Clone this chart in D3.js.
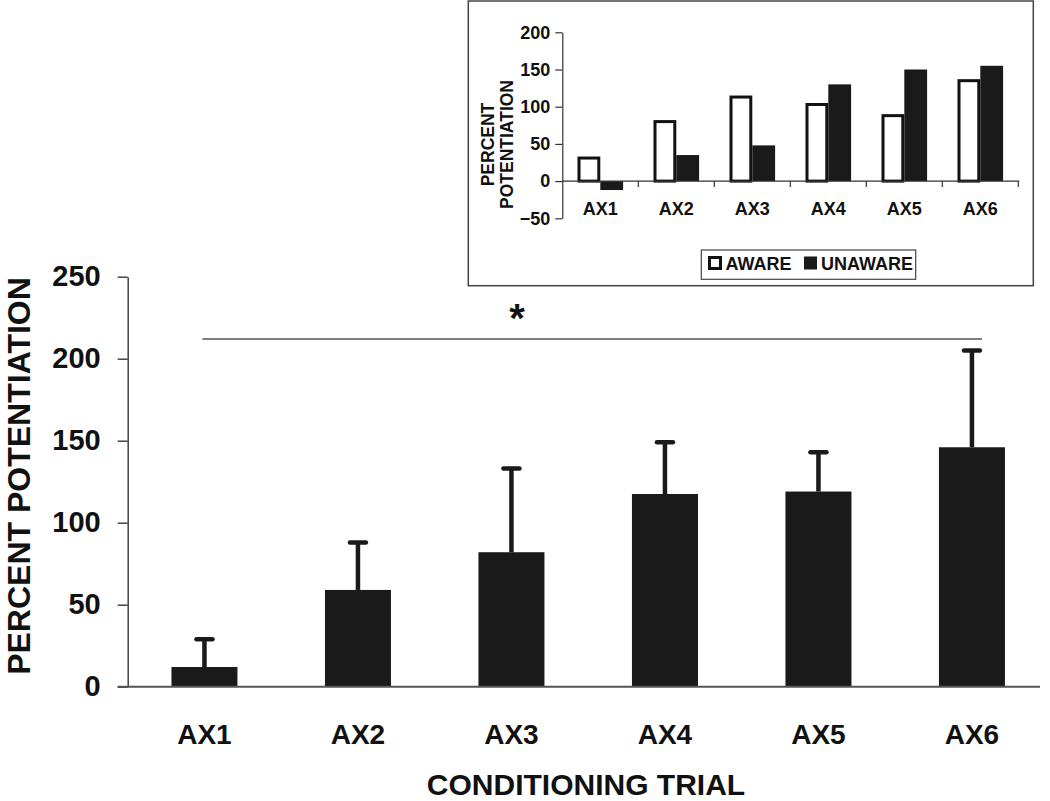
<!DOCTYPE html>
<html>
<head>
<meta charset="utf-8">
<script src="https://cdn.jsdelivr.net/npm/d3@7"></script>
<style>
  html, body { margin: 0; padding: 0; background: #fff; }
  svg text { font-family: "Liberation Sans", Arial, Helvetica, sans-serif; font-weight: bold; fill: #111; }
</style>
</head>
<body>
<svg id="chart" width="1050" height="801"></svg>
<script>
// ---------- data ----------
const categories = ["AX1", "AX2", "AX3", "AX4", "AX5", "AX6"];
const meanPotentiation = [12, 59, 82, 117.5, 119, 146];
const errorUpper = [17, 29, 51, 31.5, 24, 59];
const mainTicks = [0, 50, 100, 150, 200, 250];
const significanceLevel = [212];
const significanceLabel = ["*"];

const seriesNames = ["AWARE", "UNAWARE"];
const awareValues = [33, 82, 115, 105, 90, 137];
const unawareValues = [-12, 35, 48, 130, 150, 155];
const insetTicks = [-50, 0, 50, 100, 150, 200];

const svg = d3.select("#chart");
const font = '"Liberation Sans", Arial, Helvetica, sans-serif';

// ---------- main chart ----------
const x = d3.scaleBand().domain(categories).range([127.7, 1048.7]).paddingInner(0.57).paddingOuter(0.285);
const y = d3.scaleLinear().domain([0, 250]).range([686.7, 276.7]);

const main = svg.append("g");

// y axis
const yAxis = d3.axisLeft(y).tickValues(mainTicks).tickSize(10).tickPadding(17).tickSizeOuter(0);
const yg = main.append("g").attr("transform", "translate(127.7,0)").call(yAxis);
yg.select(".domain").attr("stroke", "#444").attr("stroke-width", 1.5);
yg.selectAll(".tick line").attr("stroke", "#444").attr("stroke-width", 1.5);
yg.selectAll(".tick text").style("font-size", "29px").style("font-family", font).style("font-weight", "bold").attr("fill", "#111");

// bars
main.selectAll("rect.bar").data(categories).join("rect")
  .attr("class", "bar")
  .attr("x", d => x(d))
  .attr("width", x.bandwidth())
  .attr("y", (d, i) => y(meanPotentiation[i]))
  .attr("height", (d, i) => y(0) - y(meanPotentiation[i]))
  .attr("fill", "#1a1a1a");

// error bars
const eg = main.append("g");
eg.selectAll("line.stem").data(categories).join("line")
  .attr("x1", d => x(d) + x.bandwidth() / 2)
  .attr("x2", d => x(d) + x.bandwidth() / 2)
  .attr("y1", (d, i) => y(meanPotentiation[i]))
  .attr("y2", (d, i) => y(meanPotentiation[i] + errorUpper[i]))
  .attr("stroke", "#1a1a1a").attr("stroke-width", 4.5);
eg.selectAll("line.cap").data(categories).join("line")
  .attr("x1", d => x(d) + x.bandwidth() / 2 - 8)
  .attr("x2", d => x(d) + x.bandwidth() / 2 + 8)
  .attr("y1", (d, i) => y(meanPotentiation[i] + errorUpper[i]))
  .attr("y2", (d, i) => y(meanPotentiation[i] + errorUpper[i]))
  .attr("stroke", "#1a1a1a").attr("stroke-width", 4.5).attr("stroke-linecap", "round");

// baseline x axis
main.append("line").attr("x1", 117.7).attr("x2", 1040).attr("y1", y(0)).attr("y2", y(0))
  .attr("stroke", "#555").attr("stroke-width", 2);

// x labels
main.selectAll("text.xl").data(categories).join("text")
  .attr("x", d => x(d) + x.bandwidth() / 2)
  .attr("y", 743.5)
  .attr("text-anchor", "middle")
  .style("font-size", "28px")
  .text(d => d);

// axis titles
main.append("text").attr("x", 586).attr("y", 795).attr("text-anchor", "middle")
  .style("font-size", "30px").text("CONDITIONING TRIAL");
main.append("text").attr("transform", "translate(30,476) rotate(-90)").attr("text-anchor", "middle")
  .style("font-size", "32px").text("PERCENT POTENTIATION");

// significance bar
main.append("line")
  .attr("x1", x(categories[0]) + x.bandwidth() / 2 - 2)
  .attr("x2", x(categories[5]) + x.bandwidth() / 2 + 10)
  .attr("y1", y(significanceLevel[0])).attr("y2", y(significanceLevel[0]))
  .attr("stroke", "#555").attr("stroke-width", 1.5);
main.append("text").attr("x", 517).attr("y", 332).attr("text-anchor", "middle")
  .style("font-size", "40px").text(significanceLabel[0]);

// ---------- inset ----------
const inset = svg.append("g");
inset.append("rect").attr("x", 468.3).attr("y", 1).attr("width", 565).attr("height", 284.7)
  .attr("fill", "#fff").attr("stroke", "#444").attr("stroke-width", 1.5);

const x0 = d3.scaleBand().domain(categories).range([562.3, 1018.3]).paddingInner(0.4).paddingOuter(0.2);
const x1 = d3.scaleBand().domain(seriesNames).range([0, x0.bandwidth()]);
const yi = d3.scaleLinear().domain([-50, 200]).range([218.3, 32.3]);

const yiAxis = d3.axisLeft(yi).tickValues(insetTicks).tickSize(7).tickPadding(5).tickSizeOuter(0);
const yig = inset.append("g").attr("transform", "translate(562.3,0)").call(yiAxis);
yig.select(".domain").attr("stroke", "#333").attr("stroke-width", 1.2);
yig.selectAll(".tick line").attr("stroke", "#333").attr("stroke-width", 1.2);
yig.selectAll(".tick text").style("font-size", "18px").style("font-family", font).style("font-weight", "bold").attr("fill", "#111");

const groups = inset.selectAll("g.grp").data(categories).join("g")
  .attr("class", "grp").attr("transform", d => `translate(${x0(d)},0)`);
const sw = 3;
groups.append("rect")
  .attr("x", x1("AWARE") + sw / 2)
  .attr("width", x1.bandwidth() - sw)
  .attr("y", (d, i) => Math.min(yi(awareValues[i]), yi(0)) + sw / 2)
  .attr("height", (d, i) => Math.abs(yi(0) - yi(awareValues[i])) - sw / 2)
  .attr("fill", "#fff").attr("stroke", "#111").attr("stroke-width", sw);
groups.append("rect")
  .attr("x", x1("UNAWARE"))
  .attr("width", x1.bandwidth())
  .attr("y", (d, i) => Math.min(yi(unawareValues[i]), yi(0)))
  .attr("height", (d, i) => Math.abs(yi(0) - yi(unawareValues[i])))
  .attr("fill", "#1a1a1a");

// inset x axis at zero
inset.append("line").attr("x1", 562.3).attr("x2", 1019.3).attr("y1", yi(0)).attr("y2", yi(0))
  .attr("stroke", "#333").attr("stroke-width", 1.2);
inset.selectAll("line.xt").data(categories).join("line")
  .attr("x1", d => x0(d) - x0.step() * 0.2 + x0.step())
  .attr("x2", d => x0(d) - x0.step() * 0.2 + x0.step())
  .attr("y1", yi(0)).attr("y2", yi(0) + 6)
  .attr("stroke", "#333").attr("stroke-width", 1.2);
inset.selectAll("text.xil").data(categories).join("text")
  .attr("x", d => x0(d) + x0.bandwidth() / 2)
  .attr("y", 214.5)
  .attr("text-anchor", "middle")
  .style("font-size", "18px")
  .text(d => d);

// inset y title
inset.append("text").attr("transform", "translate(494,144.5) rotate(-90)").attr("text-anchor", "middle")
  .style("font-size", "17.5px").text("PERCENT");
inset.append("text").attr("transform", "translate(513,144.5) rotate(-90)").attr("text-anchor", "middle")
  .style("font-size", "17.5px").text("POTENTIATION");

// legend
const lg = inset.append("g");
lg.append("rect").attr("x", 701.3).attr("y", 250).attr("width", 214.4).attr("height", 29.3)
  .attr("fill", "#fff").attr("stroke", "#444").attr("stroke-width", 1.2);
lg.append("rect").attr("x", 709.5).attr("y", 257.5).attr("width", 11).attr("height", 11)
  .attr("fill", "#fff").attr("stroke", "#111").attr("stroke-width", 3);
lg.append("text").attr("x", 725.5).attr("y", 270).style("font-size", "18px").text(seriesNames[0]);
lg.append("rect").attr("x", 804).attr("y", 256.5).attr("width", 13).attr("height", 13).attr("fill", "#1a1a1a");
lg.append("text").attr("x", 821).attr("y", 270).style("font-size", "18px").text(seriesNames[1]);
</script>
</body>
</html>
